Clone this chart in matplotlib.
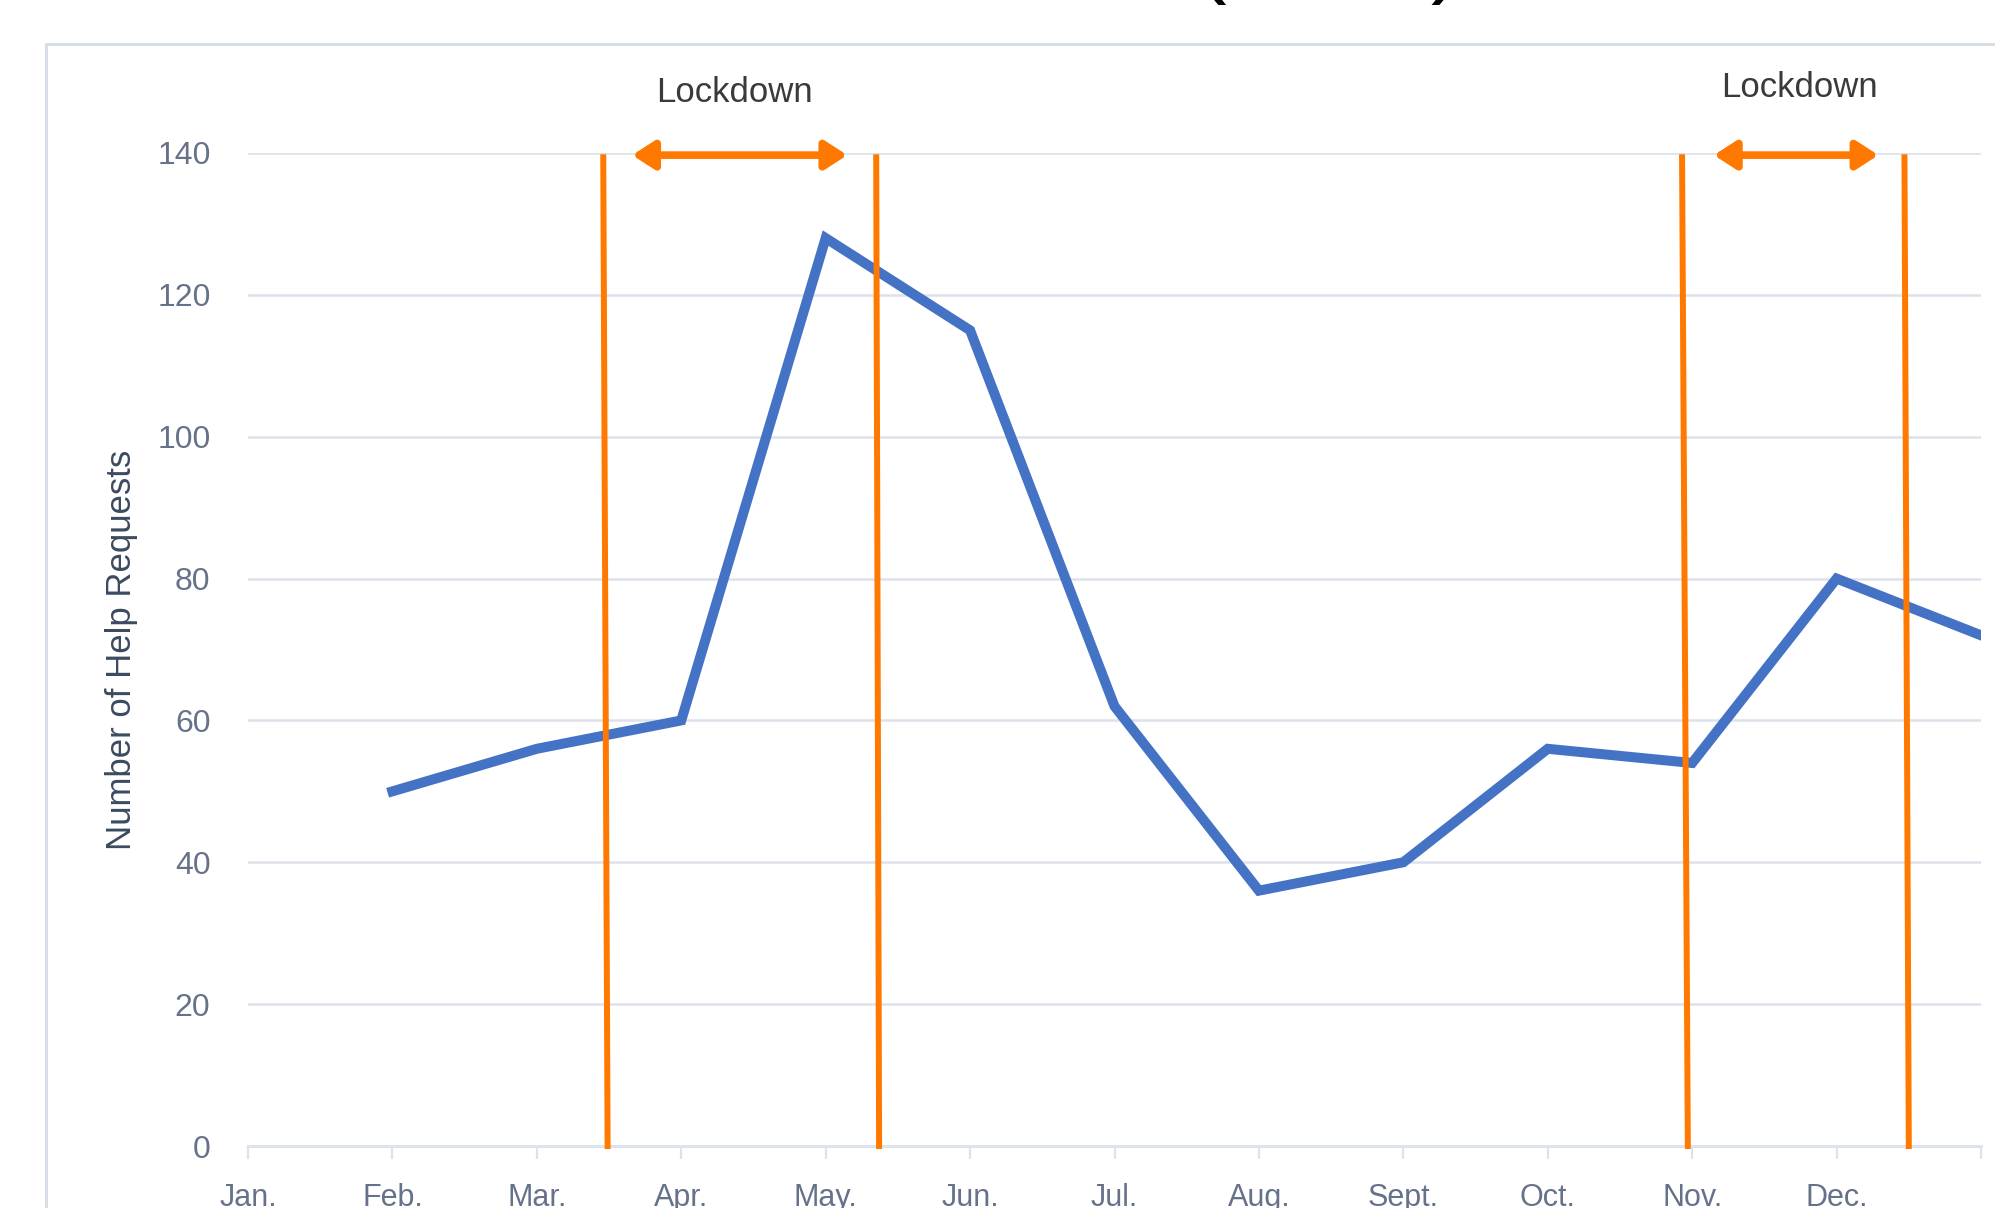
import matplotlib.pyplot as plt
from matplotlib.patches import Rectangle

plt.rcParams['font.family'] = ['Liberation Sans', 'DejaVu Sans']

# data
months = ['Jan.', 'Feb.', 'Mar.', 'Apr.', 'May.', 'Jun.', 'Jul.',
          'Aug.', 'Sept.', 'Oct.', 'Nov.', 'Dec.', '']
month_pos = list(range(13))
request_pos = [1, 2, 3, 4, 5, 6, 7, 8, 9, 10, 11, 12]
requests = [50, 56, 60, 128, 115, 62, 36, 40, 56, 54, 80, 72]

# lockdown markers (positions on the month axis)
lock_bottom = [2.49, 4.37, 9.97, 11.50]
lock_top = [2.46, 4.35, 9.93, 11.47]
lock_arrows = [(2.66, 4.15), (10.15, 11.29)]
lock_text_x = [3.37, 10.74]
lock_text_y = [148.6, 149.3]

blue = '#4472C4'
orange = '#FF7800'
grid_c = '#dde3ea'
tick_c = '#66728a'

fig = plt.figure(figsize=(19.95, 12.08), dpi=100)
ax = fig.add_axes([248 / 1995, 62 / 1208, 1733 / 1995, 993 / 1208])

# chart border (cropped on right and bottom)
fig.patches.append(Rectangle((46 / 1995, -0.1), 1.2, (1208 - 44) / 1208 + 0.1,
                             transform=fig.transFigure, fill=False,
                             edgecolor='#d9dee6', lw=2.2))

# title, mostly cut off at the top (only the brackets' tails show)
fig.text(1462 / 1995, 1 + 14 / 1208, 'Number of Residents Assisted (2020)',
         ha='right', va='baseline', fontsize=66, color='black')

ax.plot(request_pos, requests, color=blue, lw=7.2, solid_joinstyle='miter', zorder=3)

for xb, xt in zip(lock_bottom, lock_top):
    ax.plot([xb, xt], [0, 139.4], color=orange, lw=4.3, zorder=4, clip_on=False)

for x0, x1 in lock_arrows:
    ax.annotate('', xy=(x1, 139.7), xytext=(x0, 139.7),
                arrowprops=dict(arrowstyle='<|-|>,head_length=0.65,head_width=0.42',
                                color=orange, lw=5.5, mutation_scale=20,
                                shrinkA=0, shrinkB=0),
                annotation_clip=False, zorder=5)

for tx, ty in zip(lock_text_x, lock_text_y):
    ax.text(tx, ty, 'Lockdown', ha='center', va='center', fontsize=25,
            color='#3a3a3a', clip_on=False)

ax.set_xlim(0, 12)
ax.set_ylim(0, 140)
ax.set_xticks(month_pos)
ax.set_xticklabels(months)
ax.set_yticks(range(0, 141, 20))

ax.grid(axis='y', color=grid_c, lw=1.8)
ax.set_axisbelow(True)
for s in ['top', 'right', 'left']:
    ax.spines[s].set_visible(False)
ax.spines['bottom'].set_color(grid_c)
ax.spines['bottom'].set_linewidth(2.2)

ax.tick_params(axis='x', length=9.5, width=1.6, color=grid_c, pad=17,
               labelsize=22, labelcolor=tick_c)
ax.tick_params(axis='y', length=0, pad=27, labelsize=23, labelcolor=tick_c)

fig.text(121 / 1995, (1208 - 650) / 1208, 'Number of Help Requests', rotation=90,
         ha='center', va='center', fontsize=25, color='#3b4a60')

fig.savefig('out.png', dpi=100)
